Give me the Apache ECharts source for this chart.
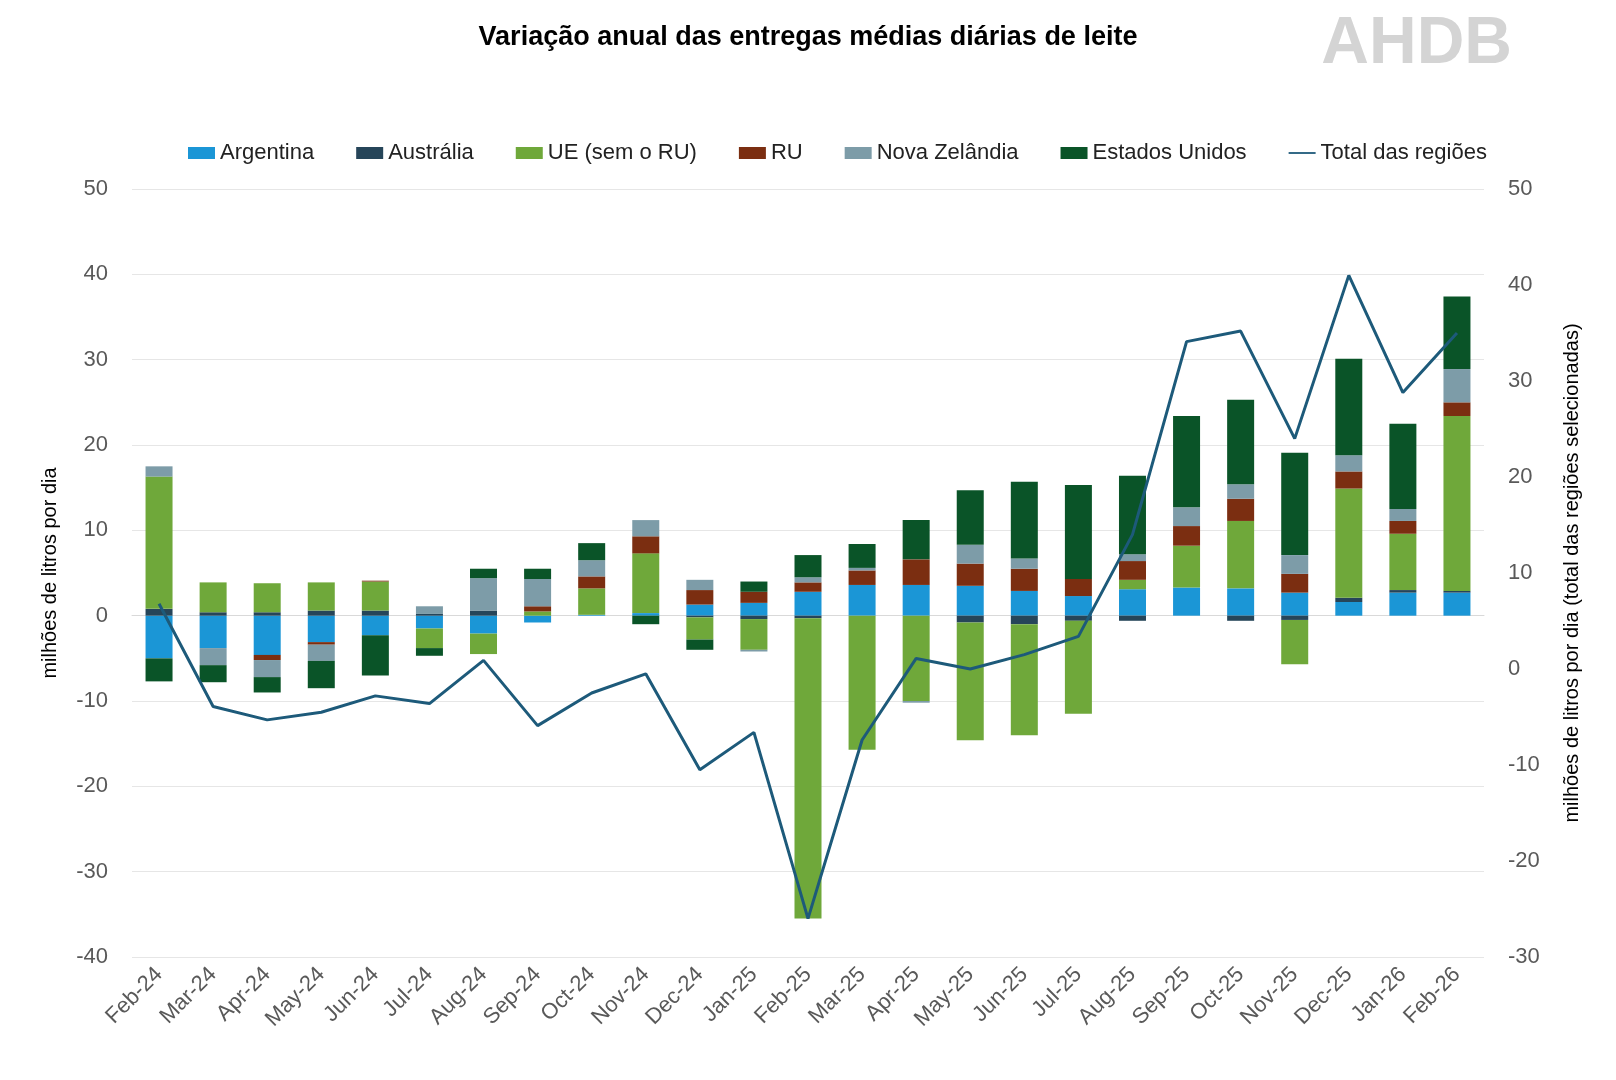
<!DOCTYPE html><html><head><meta charset="utf-8"><script src="https://cdn.jsdelivr.net/npm/echarts@6/dist/echarts.min.js"></script></head><body style="margin:0;background:#fff"><div id="c" style="width:1616px;height:1080px"></div><script>
const categories=["Feb-24","Mar-24","Apr-24","May-24","Jun-24","Jul-24","Aug-24","Sep-24","Oct-24","Nov-24","Dec-24","Jan-25","Feb-25","Mar-25","Apr-25","May-25","Jun-25","Jul-25","Aug-25","Sep-25","Oct-25","Nov-25","Dec-25","Jan-26","Feb-26"];
const argentina=[-5,-3.8,-4.6,-3.1,-2.3,-1.5,-2.1,-0.8,0.1,0.3,1.3,1.5,2.8,3.6,3.6,3.5,2.9,2.3,3.1,3.3,3.2,2.7,1.6,2.7,2.7];
const australia=[0.8,0.4,0.4,0.6,0.6,0.2,0.6,0,0,0,-0.2,-0.4,-0.3,0,0,-0.8,-1,-0.6,-0.6,0,-0.6,-0.5,0.5,0.3,0.2];
const eu=[15.5,3.5,3.4,3.3,3.4,-2.3,-2.4,0.5,3.1,7,-2.6,-3.6,-35.2,-15.7,-10,-13.8,-13,-10.9,1.1,4.9,7.9,-5.2,12.8,6.6,20.5];
const uk=[0,0,-0.6,-0.3,0.1,0,0,0.6,1.4,2,1.7,1.3,1.1,1.7,3,2.6,2.6,2,2.2,2.3,2.6,2.2,2,1.5,1.6];
const nz=[1.2,-2,-2,-1.9,0,0.9,3.8,3.2,1.9,1.9,1.2,-0.2,0.6,0.3,-0.2,2.2,1.2,0,0.8,2.2,1.7,2.2,1.9,1.4,3.9];
const us=[-2.7,-2,-1.8,-3.2,-4.7,-0.9,1.1,1.2,2,-1,-1.2,1.2,2.6,2.8,4.6,6.4,9,11,9.2,10.7,9.9,12,11.3,10,8.5];
const total=[6.8,-3.9,-5.3,-4.5,-2.8,-3.6,0.9,-5.9,-2.5,-0.5,-10.5,-6.6,-26,-7.4,1.1,0,1.5,3.4,14,34.1,35.2,24,41,28.8,35];
const names=["Argentina","Austrália","UE (sem o RU)","RU","Nova Zelândia","Estados Unidos"];
const colors=["#1b96d6","#264559","#6fa83a","#7b2e11","#7d9ca8","#0a5428"];
const vals=[argentina,australia,eu,uk,nz,us];
const series=vals.map((d,i)=>({name:names[i],type:'bar',stack:'s',data:d,barWidth:27,itemStyle:{color:colors[i]}}));
series.push({name:"Total das regiões",type:'line',yAxisIndex:1,data:total,symbol:'none',lineStyle:{color:'#1d5a7a',width:3},itemStyle:{color:'#1d5a7a'}});
const ax={color:'#595959',fontSize:22,fontFamily:'Liberation Sans'};
const c=echarts.init(document.getElementById('c'));
c.setOption({animation:false,
title:{text:'Variação anual das entregas médias diárias de leite',left:'center',top:19,textStyle:{fontSize:27,fontWeight:'bold',color:'#000',fontFamily:'Liberation Sans'}},
graphic:[{type:'text',right:104,top:12,style:{text:'AHDB',fontSize:66,fontWeight:'bold',fill:'#d4d4d4',fontFamily:'Liberation Sans'}}],
legend:{top:137,left:183,itemWidth:27,itemHeight:12,itemGap:42,textStyle:{fontSize:22,color:'#222',fontFamily:'Liberation Sans'},data:names.map(n=>({name:n,icon:'rect'})).concat([{name:'Total das regiões',icon:'path://M0,5L30,5L30,7L0,7Z'}])},
grid:{left:132,right:132,top:189,bottom:123},
xAxis:{type:'category',data:categories,axisTick:{show:false},axisLine:{lineStyle:{color:'#d9d9d9'}},axisLabel:{...ax,rotate:45,interval:0,margin:14}},
yAxis:[{type:'value',min:-40,max:50,interval:10,name:'milhões de litros por dia',nameLocation:'middle',nameGap:72,nameTextStyle:{fontSize:20,color:'#000',fontFamily:'Liberation Sans'},axisLabel:{...ax,margin:24},splitLine:{lineStyle:{color:'#e6e6e6'}}},
{type:'value',min:-30,max:50,interval:10,name:'milhões de litros por dia (total das regiões selecionadas)',nameLocation:'middle',nameGap:78,nameRotate:90,nameTextStyle:{fontSize:20,color:'#000',fontFamily:'Liberation Sans'},axisLabel:{...ax,margin:24},splitLine:{show:false}}],
series});
</script></body></html>
